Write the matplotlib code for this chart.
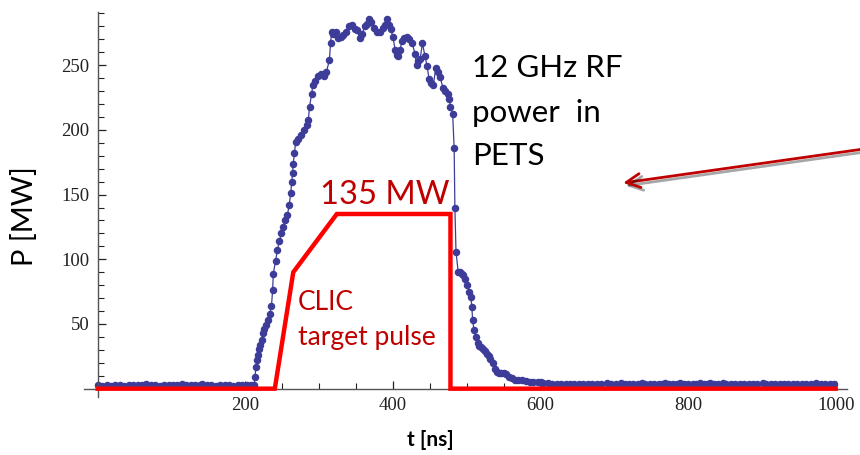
import matplotlib
matplotlib.use("Agg")
import matplotlib.pyplot as plt
from matplotlib.ticker import MultipleLocator
import matplotlib.patheffects as pe

# measured PETS output power (ns, MW)
t_ns = [
    0, 6, 12, 18, 24, 30, 36, 42, 48, 54, 60, 66, 72, 78, 84, 90, 96, 102,
    108, 114, 120, 126, 132, 138, 142, 148, 154, 160, 166, 172, 178, 184,
    190, 196, 202, 208,
    212, 213, 214.5, 216, 217.6, 219, 220.5, 222, 224, 226, 228, 231, 233,
    235.5, 237, 238, 241, 243.5, 246, 249, 251.5, 254, 257, 259.5, 261.5,
    263, 264, 265, 266.5, 268.5, 271, 275, 279.5, 283, 285.5, 287, 290,
    291.5, 294.5, 299, 303, 306, 310, 314, 315.5, 317, 319, 323, 326, 330,
    333, 336, 340, 344, 348, 351, 355, 358, 362, 365, 368, 371, 375, 379,
    383, 386, 389, 392, 395, 397, 400, 403, 405, 407, 410, 412, 415, 419,
    422, 426, 430, 432, 434, 437, 440, 443.5, 446.5, 449, 452, 455, 458,
    461, 464, 468, 471, 474, 476.5, 478, 481, 483, 484, 485.5, 488.5, 491,
    493, 495, 497.5, 500.5, 503.5, 505.5, 507, 508, 510, 512.5, 515, 517,
    519, 522, 525, 527, 530, 532, 535, 538, 541, 544, 547, 550, 553, 557,
    561, 565, 570, 575, 581, 586, 590, 596, 601, 604,
    610, 616, 622, 628, 634, 640, 646, 652, 658, 664, 670, 676, 682, 690,
    696, 702, 709, 714, 720, 726, 732, 737, 742, 748, 754, 760, 765, 769,
    774, 780, 785, 789, 794, 800, 806, 811, 816, 821, 826, 830, 835, 841,
    847, 852, 858, 864, 870, 876, 882, 888, 894, 901, 906, 912, 918, 924,
    930, 936, 942, 948, 954, 960, 966, 974, 980, 986, 992, 998,
]
p_mw = [
    2.5, 2.3, 2.5, 2.4, 2.6, 2.5, 2.3, 2.5, 2.6, 2.5, 2.7, 3.9, 2.7, 2.5,
    2.4, 2.5, 2.6, 2.5, 2.7, 3.9, 2.6, 2.5, 2.6, 2.9, 3.9, 2.6, 2.5, 2.4,
    2.5, 2.6, 2.5, 2.3, 2.5, 2.6, 2.5, 2.5,
    2.5, 9, 17, 22, 26, 31, 34, 38, 43, 46, 49, 53, 58,
    64, 76, 89, 99, 107, 114, 120, 125, 130, 134, 142, 151,
    160, 167, 174, 182, 191, 193, 196, 200, 204, 208, 218, 228,
    235, 238, 242, 243, 242, 245, 254, 267, 276, 274, 276, 271, 272,
    273, 276, 280, 281, 278, 277, 271, 274, 280, 282, 286, 283, 279, 276,
    276, 279, 281, 286, 281, 278, 272, 262, 258, 257, 262, 269, 271, 272,
    270, 267, 259, 250, 253, 255, 267, 257, 249, 239, 236, 235, 248,
    245, 241, 232, 230, 228, 224, 218, 212, 186, 140, 106, 90, 90,
    89, 88, 85, 80, 75, 71, 63, 53, 45, 40, 35, 33,
    32, 31, 29, 27, 25, 23, 20, 15, 13, 12, 12, 12, 11, 9,
    8, 7, 6.5, 6.5, 6, 5.5, 5, 5, 5.5, 4.5,
    4.0, 3.8, 3.6, 3.8, 3.6, 3.7, 3.5, 3.7, 3.5, 3.6, 3.4, 3.6, 3.5, 4.5,
    3.6, 3.5, 4.6, 3.6, 3.4, 3.5, 3.6, 4.6, 3.5, 3.4, 3.6, 3.5, 3.8, 4.5,
    3.6, 3.5, 3.9, 4.5, 3.6, 3.5, 3.4, 3.7, 4.6, 3.6, 3.8, 4.5, 3.6, 3.5,
    4.3, 3.5, 3.4, 3.6, 3.5, 3.4, 3.6, 3.5, 3.6, 4.6, 3.6, 3.4, 3.5, 3.4,
    3.6, 3.5, 3.4, 3.6, 3.5, 3.6, 3.5, 4.4, 3.6, 3.4, 3.5, 3.6,
]

# CLIC target pulse outline
target_t = [0, 240, 265, 324, 478, 478, 1000]
target_p = [0, 0, 90, 135, 135, 0, 0]

x_major = [200, 400, 600, 800, 1000]
y_major = [50, 100, 150, 200, 250]

blue = "#3D3D99"
dark_red = "#C00000"
sans = ["Lato", "DejaVu Sans"]
serif = ["Liberation Serif", "DejaVu Serif"]

fig = plt.figure(figsize=(8.6, 4.55), dpi=100)
ax = fig.add_axes([0.0973, 0.1273, 0.8873, 0.846])

ax.plot(t_ns, p_mw, color=blue, lw=0.9, marker="o", ms=4.4, mec=blue,
        mfc=blue, zorder=2, clip_on=False)
ax.plot(target_t, target_p, color="#FF0000", lw=3.2, zorder=3,
        solid_joinstyle="miter", clip_on=False)

ax.set_xlim(-19, 1015)
ax.set_ylim(-6.5, 291)

# Mathematica-style axes through the origin
for side in ["top", "right"]:
    ax.spines[side].set_visible(False)
ax.spines["left"].set_position(("data", 0))
ax.spines["bottom"].set_position(("data", 0))
for side in ["left", "bottom"]:
    ax.spines[side].set_color("#555555")
    ax.spines[side].set_linewidth(1.0)

ax.set_xticks(x_major)
ax.set_yticks(y_major)
ax.xaxis.set_minor_locator(MultipleLocator(50))
ax.yaxis.set_minor_locator(MultipleLocator(10))
ax.tick_params(which="major", direction="in", length=6, width=0.9,
               color="#222222", labelsize=13.5, pad=6)
ax.tick_params(which="minor", direction="in", length=4, width=0.8,
               color="#222222")
for lab in ax.get_xticklabels() + ax.get_yticklabels():
    lab.set_fontfamily(serif)
    lab.set_color("#222222")

# annotations (placed by baseline)
for txt, yb in [("12 GHz RF", 240.5), ("power  in", 206), ("PETS", 173)]:
    ax.text(507, yb, txt, family=sans, fontsize=22.5, color="black",
            va="baseline", ha="left")
ax.text(301, 143, "135 MW", family=sans, fontsize=23.5, color=dark_red,
        va="baseline", ha="left")
ax.text(271.5, 60.5, "CLIC", family=sans, fontsize=19, color=dark_red,
        va="baseline", ha="left")
ax.text(271.5, 33.5, "target pulse", family=sans, fontsize=19,
        color=dark_red, va="baseline", ha="left")

ax.annotate("", xy=(712, 159), xytext=(1035, 185), xycoords="data",
            textcoords="data", annotation_clip=False,
            arrowprops=dict(arrowstyle="->,head_length=1.0,head_width=0.5",
                            color=dark_red, lw=2.0, shrinkA=0, shrinkB=0,
                            path_effects=[pe.SimpleLineShadow(offset=(2, -2),
                                                              alpha=0.35),
                                          pe.Normal()]))

fig.text(0.5, 0.033, "t [ns]", family=sans, fontsize=15, fontweight="bold",
         ha="center", va="center")
fig.text(0.028, 0.525, "P [MW]", family=sans, fontsize=21, rotation=90,
         ha="center", va="center")

fig.savefig("out.png", dpi=100)
